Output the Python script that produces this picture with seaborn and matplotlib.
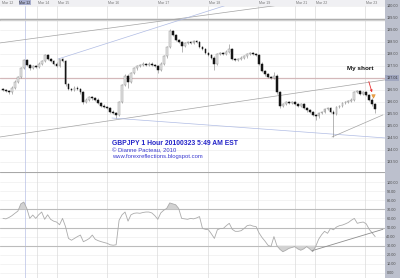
import numpy as np
import pandas as pd
import matplotlib
matplotlib.use("Agg")
import matplotlib.pyplot as plt
import matplotlib.transforms as mtrans
from matplotlib.patches import Rectangle
import seaborn as sns

# ---------------- data ----------------
first_open = 136.55
closes = [
    136.50, 136.45, 136.40, 136.60, 136.85, 137.05, 137.40, 137.75, 137.55, 137.40,
    137.50, 137.45, 137.60, 137.70, 137.95, 137.80, 137.70, 137.60, 137.50, 137.80,
    137.70, 136.75, 136.55, 136.50, 136.60, 136.55, 136.40, 136.00, 136.10, 136.20,
    136.15, 136.10, 135.95, 135.85, 135.80, 135.75, 135.60, 135.55, 135.45, 136.00,
    136.70, 137.10, 136.85, 137.20, 137.40, 137.50, 137.55, 137.60, 137.55, 137.60,
    137.55, 137.50, 137.35, 137.60, 137.90, 138.30, 138.95, 138.80, 138.60, 138.50,
    138.35, 138.45, 138.50, 138.45, 138.55, 138.50, 138.30, 138.20, 138.05, 137.95,
    137.85, 137.60, 138.00, 138.05, 138.00, 138.10, 138.20, 137.80, 137.75, 137.80,
    137.85, 137.90, 138.00, 138.05, 138.00, 137.95, 137.60, 137.30, 137.15, 137.05,
    137.00, 137.10, 136.40, 135.85, 135.90, 136.00, 135.95, 136.00, 135.90, 135.85,
    135.90, 135.75, 135.65, 135.60, 135.45, 135.40, 135.55, 135.60, 135.70, 135.75,
    135.60, 135.50, 135.80, 135.85, 135.95, 136.00, 136.05, 136.10, 136.40, 136.45,
    136.35, 136.40, 136.30, 136.10, 135.90, 135.70,
]
wick_up = [
    0.05, 0.05, 0.04, 0.05, 0.05, 0.04, 0.05, 0.05, 0.05, 0.04,
    0.05, 0.05, 0.05, 0.04, 0.05, 0.05, 0.04, 0.05, 0.05, 0.00,
    0.05, 0.05, 0.05, 0.04, 0.05, 0.05, 0.04, 0.05, 0.05, 0.05,
    0.04, 0.05, 0.05, 0.04, 0.05, 0.05, 0.04, 0.05, 0.05, 0.05,
    0.05, 0.08, 0.05, 0.05, 0.05, 0.04, 0.05, 0.05, 0.04, 0.05,
    0.05, 0.04, 0.05, 0.05, 0.05, 0.05, 0.10, 0.05, 0.05, 0.04,
    0.05, 0.05, 0.04, 0.05, 0.05, 0.04, 0.05, 0.05, 0.04, 0.05,
    0.05, 0.05, 0.05, 0.04, 0.05, 0.05, 0.20, 0.05, 0.05, 0.04,
    0.05, 0.05, 0.04, 0.05, 0.05, 0.04, 0.05, 0.05, 0.04, 0.05,
    0.05, 0.15, 0.05, 0.05, 0.05, 0.04, 0.05, 0.05, 0.04, 0.05,
    0.05, 0.04, 0.05, 0.05, 0.04, 0.05, 0.05, 0.04, 0.05, 0.05,
    0.04, 0.05, 0.05, 0.04, 0.05, 0.05, 0.04, 0.05, 0.05, 0.04,
    0.05, 0.05, 0.04, 0.05, 0.05, 0.04,
]
wick_dn = [
    0.05, 0.04, 0.05, 0.05, 0.04, 0.05, 0.05, 0.04, 0.05, 0.05,
    0.04, 0.05, 0.05, 0.04, 0.05, 0.05, 0.04, 0.05, 0.05, 0.05,
    0.04, 0.10, 0.05, 0.05, 0.04, 0.05, 0.05, 0.10, 0.05, 0.04,
    0.05, 0.05, 0.04, 0.05, 0.05, 0.04, 0.05, 0.05, 0.12, 0.05,
    0.04, 0.05, 0.25, 0.05, 0.04, 0.05, 0.05, 0.04, 0.05, 0.05,
    0.04, 0.05, 0.15, 0.05, 0.04, 0.05, 0.05, 0.04, 0.05, 0.05,
    0.25, 0.05, 0.04, 0.05, 0.05, 0.04, 0.05, 0.05, 0.04, 0.05,
    0.05, 0.25, 0.05, 0.05, 0.04, 0.05, 0.05, 0.04, 0.05, 0.05,
    0.04, 0.05, 0.05, 0.04, 0.05, 0.05, 0.04, 0.05, 0.05, 0.04,
    0.05, 0.05, 0.05, 0.10, 0.05, 0.04, 0.05, 0.05, 0.04, 0.05,
    0.05, 0.04, 0.05, 0.05, 0.04, 0.15, 0.05, 0.04, 0.05, 0.05,
    0.04, 0.95, 0.05, 0.04, 0.05, 0.05, 0.04, 0.05, 0.05, 0.04,
    0.05, 0.05, 0.04, 0.05, 0.05, 0.15,
]
rsi = [
    60, 59.5, 61, 63, 65.6, 68, 76, 78, 71, 60,
    63.7, 60, 64, 67, 59, 64, 59, 57, 56, 53,
    60, 51, 38, 36, 38, 40, 41.7, 34.4, 36, 38,
    41.7, 37, 35.5, 34.4, 33.5, 32.6, 31, 30.5, 31, 58,
    64, 67, 57, 64, 65.6, 66, 65.6, 66.5, 67, 67,
    66, 63, 59, 66, 69, 71, 77, 76, 75, 71,
    60, 59.5, 59, 60, 59.5, 60.5, 62, 49, 48, 47.5,
    43, 38, 47.5, 49, 49, 52, 54.6, 48, 45.8, 45.8,
    46.5, 49, 52, 52.7, 51.5, 51, 44, 39, 35, 30.5,
    29, 40, 30, 26, 23.4, 25, 27, 28, 29, 26.5,
    25, 26.5, 29, 26.5, 23.4, 29, 37, 42, 45.8, 43.6,
    49, 47.5, 50.5, 52, 52.7, 54, 55.5, 58, 60, 54.6,
    55.5, 56, 54, 48, 44, 40,
]
price_ticks = [133.5, 134.0, 134.5, 135.0, 135.5, 136.0, 136.5, 137.0, 137.5,
               138.0, 138.5, 139.0, 139.5, 140.0]
rsi_ticks = [0, 10, 20, 30, 40, 50, 60, 70, 80, 90, 100]
date_pos = [7.4, 11.4, 18.1, 34.9, 51.7, 68.9, 85.7, 98.1, 104.8, 121.6]
date_labels = ["Mar 12", "Mar 14", "Mar 15", "Mar 16", "Mar 17", "Mar 18",
               "Mar 19", "Mar 21", "Mar 22", "Mar 23"]
first_label = ("Mar 12", -0.4)
cursor_bar = 7.4
cursor_price = 137.01
resist_price = 139.42
# trend lines: (bar, price) anchors
line_a = [(-1.0, 138.46), (93.0, 140.04)]
line_b = [(18.5, 137.79), (80.0, 140.23)]
line_c = [(-1.0, 134.54), (128.3, 136.92)]
line_d = [(36.6, 135.33), (128.3, 134.50)]
line_e = [(110.5, 134.54), (127.6, 135.46)]
rsi_line = [(103.8, 24.5), (127.6, 48.0)]
short_bar, short_price = 124.3, 136.24

df = pd.DataFrame({"bar": np.arange(len(closes)), "close": closes,
                   "wu": wick_up, "wd": wick_dn, "rsi": rsi})
df["open"] = [first_open] + closes[:-1]
df["high"] = df[["open", "close"]].max(axis=1) + df["wu"]
df["low"] = df[["open", "close"]].min(axis=1) - df["wd"]

# ---------------- figure ----------------
sns.set_style("white")
plt.rcParams["font.family"] = ["Liberation Sans", "DejaVu Sans"]

fig = plt.figure(figsize=(4.0, 2.78), dpi=100)
W = 385 / 400
top_h = 5.5 / 278
split = 1 - 172 / 278
ax = fig.add_axes([0, split, W, 1 - top_h - split])
ax2 = fig.add_axes([0, 0, W, split])

fig.patches.append(Rectangle((W, 0), 1 - W, 1, transform=fig.transFigure,
                             facecolor="#bcc0cd", edgecolor="none", zorder=-10))
fig.patches.append(Rectangle((0, 1 - top_h), W, top_h, transform=fig.transFigure,
                             facecolor="#f0f0f3", edgecolor="none", zorder=-10))

xlim = (-1.0, 128.3)
for a in (ax, ax2):
    a.set_xlim(*xlim)
    a.set_xticks([])
    for s in a.spines.values():
        s.set_visible(False)
    a.yaxis.tick_right()
    a.tick_params(axis="y", length=0, pad=1.0, labelsize=2.7, labelcolor="#4a4a4a")
    for d in date_pos:
        a.axvline(d, color="#b8c0e6" if d == cursor_bar else "#dcdcdc", lw=0.5, zorder=1)

ax.set_ylim(133.08, 140.02)
ax.set_yticks(price_ticks)
ax.set_yticklabels(["" if abs(p - cursor_price) < 0.1 else f"{p:.2f}" for p in price_ticks])
for p in price_ticks:
    ax.axhline(p, color="#e8e8e8", lw=0.4, zorder=0.5)

# candles
up = df["close"] >= df["open"]
ax.vlines(df["bar"], df["low"], df["high"], color="#8c8c8c", lw=0.45, zorder=3)
body_h = (df["close"] - df["open"]).abs().clip(lower=0.015)
body_b = df[["open", "close"]].min(axis=1)
ax.bar(df["bar"][up], body_h[up], bottom=body_b[up], width=0.6,
       color="#e6e6e6", edgecolor="#959595", lw=0.35, zorder=4)
ax.bar(df["bar"][~up], body_h[~up], bottom=body_b[~up], width=0.6,
       color="#151515", edgecolor="#151515", lw=0.35, zorder=4)

# horizontal levels and cursor
ax.axhline(resist_price, color="#adadad", lw=1.6, zorder=2)
ax.axhline(resist_price, color="#ececec", lw=0.4, zorder=2)
ax.axhline(cursor_price, color="#d4b8ba", lw=0.9, zorder=2)

# trend lines
ax.axline(*line_a, color="#a4a4a4", lw=0.5, zorder=2)
ax.plot(*zip(*line_b), color="#b0bce4", lw=0.5, zorder=2)
ax.axline(*line_c, color="#a4a4a4", lw=0.5, zorder=2)
ax.plot(*zip(*line_d), color="#b0bce4", lw=0.5, zorder=2)
ax.plot(*zip(*line_e), color="#a4a4a4", lw=0.5, zorder=2)

# labels on the axes strip
ty = mtrans.blended_transform_factory(ax.transAxes, ax.transData)
ax.text(1.004, cursor_price, f"{cursor_price:.2f}", transform=ty, fontsize=2.7,
        color="#333", va="center", ha="left",
        bbox=dict(boxstyle="square,pad=0.3", fc="#a0a6bf", ec="none"))
tx = mtrans.blended_transform_factory(ax.transData, ax.transAxes)
ax.text(first_label[1], 1.004, first_label[0], transform=tx, fontsize=2.6,
        color="#777", va="bottom", ha="left")
for d, lab in zip(date_pos, date_labels):
    if d == cursor_bar:
        ax.text(d, 1.004, lab, transform=tx, fontsize=2.6, color="#333",
                va="bottom", ha="center",
                bbox=dict(boxstyle="square,pad=0.15", fc="#aab0d0", ec="none"))
    else:
        ax.text(d + 0.4, 1.004, lab, transform=tx, fontsize=2.6, color="#777",
                va="bottom", ha="left")

# annotations
ax.plot([short_bar], [short_price], marker="v", ms=2.6, color="#f0a040",
        mec="#d08020", mew=0.3, zorder=6)
ax.annotate("", xy=(short_bar - 0.1, short_price + 0.05),
            xytext=(122.6, 136.96),
            arrowprops=dict(arrowstyle="-|>", color="#e83030", lw=0.6,
                            mutation_scale=3), zorder=6)
ax.text(119.9, 137.38, "My short", fontsize=4.6, fontweight="bold",
        color="#111", ha="center", va="center", zorder=6)
ax.text(36.6, 134.25, "GBPJPY 1 Hour 20100323 5:49 AM EST", fontsize=4.9,
        fontweight="bold", color="#2222c8", ha="left", va="center")
ax.text(36.6, 133.97, "\u00a9 Dianne Pacteau, 2010", fontsize=4.2,
        color="#3a3ad0", ha="left", va="center")
ax.text(36.6, 133.72, "www.forexreflections.blogspot.com", fontsize=4.2,
        color="#3a3ad0", ha="left", va="center")

# ---------------- oscillator panel ----------------
ax2.set_ylim(-5.5, 111)
ax2.set_yticks(rsi_ticks)
ax2.set_yticklabels([f"{v:.2f}" for v in rsi_ticks])
for v in rsi_ticks:
    ax2.axhline(v, color="#ebebeb", lw=0.4, zorder=0.5)
for v in (30, 50, 70):
    ax2.axhline(v, color="#bcbcbc", lw=0.8, zorder=1.5)
ax2.axhline(111, color="#a8a8a8", lw=0.8, zorder=2)

r = df["rsi"].to_numpy()
b = df["bar"].to_numpy()
ax2.fill_between(b, 70, r, where=r > 70, interpolate=True, color="#d2d2d2", lw=0, zorder=2)
ax2.fill_between(b, 30, r, where=r < 30, interpolate=True, color="#d2d2d2", lw=0, zorder=2)
sns.lineplot(data=df, x="bar", y="rsi", ax=ax2, color="#ababab", lw=0.6, zorder=3)
ax2.plot(*zip(*rsi_line), color="#8e8e8e", lw=0.6, zorder=3)
ax2.set_xlabel("")
ax2.set_ylabel("")
ax2.set_xlim(*xlim)

fig.savefig("out.png", dpi=100)
